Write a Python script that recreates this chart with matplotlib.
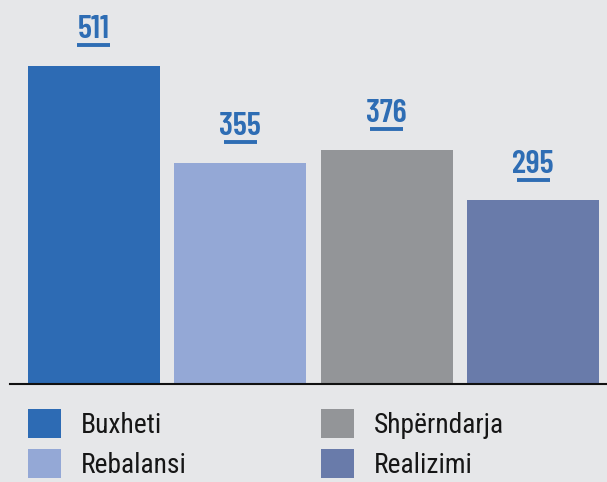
import matplotlib.pyplot as plt
from matplotlib.patches import Patch
from matplotlib import transforms

# datos
categorias = ["Buxheti", "Rebalansi", "Shpërndarja", "Realizimi"]
valores = [511, 355, 376, 295]
colores = ["#2d6bb4", "#94a8d6", "#939598", "#697baa"]
fondo = "#e6e7e9"
azul = "#2e6db4"

plt.rcParams['font.family'] = ['Roboto Condensed', 'DejaVu Sans']

fig = plt.figure(figsize=(6.07, 4.82), dpi=100, facecolor=fondo)
ax = fig.add_axes([10/607, 98/482, 597/607, 384/482])
ax.set_facecolor(fondo)

x = range(len(valores))
ax.bar(x, valores, width=0.9, color=colores)
ax.set_xlim(-0.573, 3.505)
ax.set_ylim(0, 617)

for s in ["top", "left", "right"]:
    ax.spines[s].set_visible(False)
ax.spines["bottom"].set_linewidth(1.5)
ax.spines["bottom"].set_color("#111111")
ax.set_xticks([])
ax.set_yticks([])

# etiquetas con subrayado
trans_txt = transforms.offset_copy(ax.transData, fig=fig, y=20, units='points')
trans_lin = transforms.offset_copy(ax.transData, fig=fig, y=15, units='points')
for i, v in enumerate(valores):
    ax.text(i, v, str(v), transform=trans_txt, ha='center', va='baseline',
            fontsize=23.5, fontweight='semibold', color=azul,
            family=['Barlow Condensed', 'DejaVu Sans'])
    ax.plot([i - 0.113, i + 0.113], [v, v], transform=trans_lin,
            color=azul, linewidth=2.8, solid_capstyle='butt', clip_on=False)

# leyenda en dos columnas
handles = [Patch(facecolor=c, edgecolor='none') for c in colores]
for k, x0 in enumerate([28, 321]):
    leg = fig.legend(handles[2*k:2*k+2], categorias[2*k:2*k+2], loc='upper left',
                     bbox_to_anchor=(x0/607, 1 - 409/482), frameon=False,
                     prop={'size': 19.8},
                     handlelength=1.19, handleheight=1.22, handletextpad=0.74,
                     labelspacing=0.38, borderpad=0, borderaxespad=0)
    for t in leg.get_texts():
        t.set_color("#161616")

fig.savefig("out.png", dpi=100, facecolor=fondo)
